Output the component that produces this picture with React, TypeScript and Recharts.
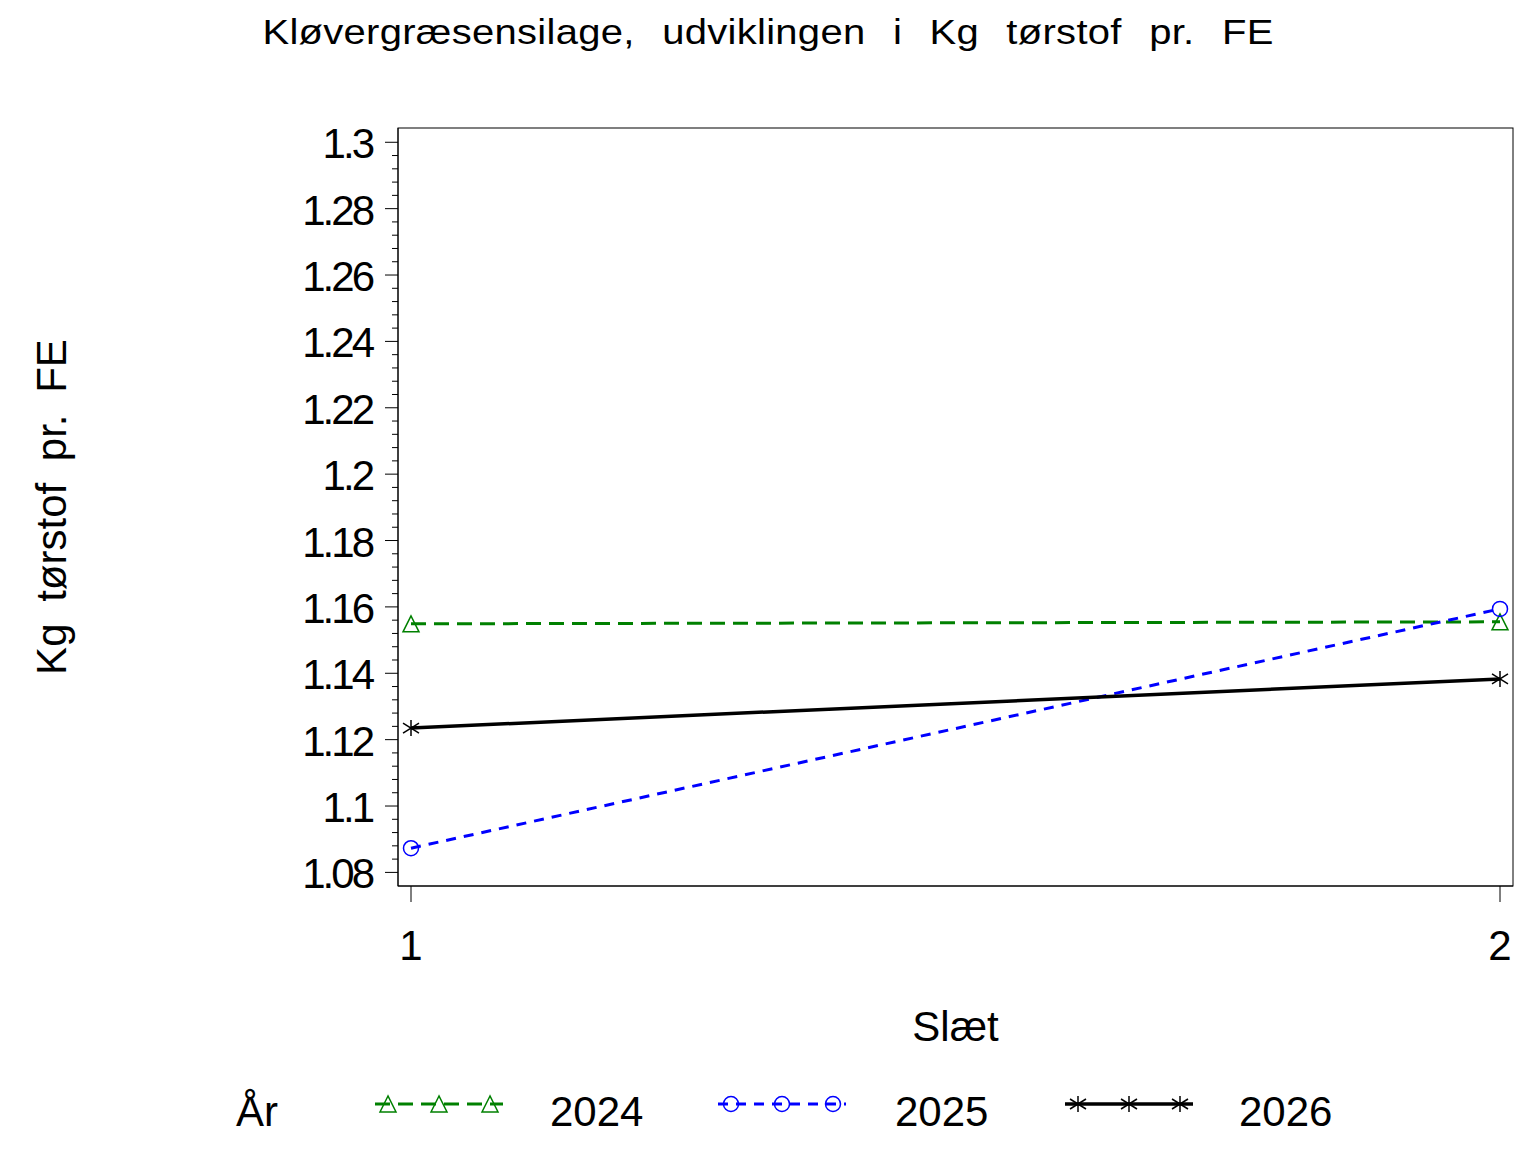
import React from "react";
import * as R from "recharts";
import { LineChart, Line, XAxis, YAxis, Legend } from "recharts";

const SLAET = [1, 2];
const Y2024 = [1.1549, 1.1555];
const Y2025 = [1.0873, 1.1594];
const Y2026 = [1.1235, 1.1383];
const MAJOR_TICKS = [1.08, 1.1, 1.12, 1.14, 1.16, 1.18, 1.2, 1.22, 1.24, 1.26, 1.28, 1.3];
const X_TICKS = [1, 2];

const FONT = "'Liberation Sans', Arial, sans-serif";

const data = SLAET.map((s, i) => ({ slaet: s, y2024: Y2024[i], y2025: Y2025[i], y2026: Y2026[i] }));

// 4 minor ticks between each pair of labelled ticks
const minorTicks: number[] = [];
for (let i = 0; i < MAJOR_TICKS.length - 1; i++) {
  for (let k = 1; k < 5; k++) {
    minorTicks.push(Math.round((MAJOR_TICKS[i] + k * 0.004) * 1000) / 1000);
  }
}
const allTicks = [...MAJOR_TICKS, ...minorTicks].sort((a, b) => a - b);

function Triangle({ cx, cy }: { cx: number; cy: number }) {
  return (
    <polygon
      points={`${cx},${cy - 8} ${cx - 8},${cy + 8} ${cx + 8},${cy + 8}`}
      fill="none"
      stroke="#008000"
      strokeWidth={1.5}
    />
  );
}

function Circle({ cx, cy }: { cx: number; cy: number }) {
  return <circle cx={cx} cy={cy} r={7.5} fill="none" stroke="#0000ff" strokeWidth={1.5} />;
}

function Star({ cx, cy }: { cx: number; cy: number }) {
  return (
    <g stroke="#000" strokeWidth={1.5}>
      <line x1={cx} y1={cy - 8} x2={cx} y2={cy + 8} />
      <line x1={cx - 8} y1={cy - 5} x2={cx + 8} y2={cy + 5} />
      <line x1={cx - 8} y1={cy + 5} x2={cx + 8} y2={cy - 5} />
    </g>
  );
}

const dotOf = (Shape: typeof Triangle) => (props: any) =>
  <Shape key={props.index} cx={props.cx} cy={props.cy} />;

// box round the plot area
function Frame() {
  const usePA = (R as any).usePlotArea;
  const pa = usePA ? usePA() : null;
  if (!pa) return null;
  return <rect x={pa.x} y={pa.y} width={pa.width} height={pa.height} fill="none" stroke="#000" strokeWidth={1} />;
}

function YTick(props: any) {
  const { x, y, payload } = props;
  const major = MAJOR_TICKS.includes(payload.value);
  return (
    <g>
      <line x1={x - (major ? 13 : 6)} y1={y} x2={x} y2={y} stroke="#000" strokeWidth={1} />
      {major && (
        <text x={x - 26} y={y + 16} textAnchor="end" fontSize={42} letterSpacing={-3} fill="#000" fontFamily={FONT}>
          {String(payload.value)}
        </text>
      )}
    </g>
  );
}

function XTick(props: any) {
  const { x, y, payload } = props;
  return (
    <g>
      <line x1={x} y1={y} x2={x} y2={y + 16} stroke="#000" strokeWidth={1} />
      <text x={x} y={y + 74} textAnchor="middle" fontSize={42} fill="#000" fontFamily={FONT}>
        {String(payload.value)}
      </text>
    </g>
  );
}

const LEGEND_ITEMS = [
  { key: "y2024", x: 375, text: 550, Shape: Triangle, color: "#008000", dash: "15 8", width: 3 },
  { key: "y2025", x: 718, text: 895, Shape: Circle, color: "#0000ff", dash: "10 8", width: 3 },
  { key: "y2026", x: 1065, text: 1239, Shape: Star, color: "#000", dash: undefined, width: 3.5 },
];

function LegendContent(props: any) {
  const payload = props.payload || [];
  const ly = 44;
  return (
    <svg width={1536} height={90} style={{ display: "block" }}>
      <text x={236} y={66} fontSize={42} fontFamily={FONT} fill="#000">År</text>
      {LEGEND_ITEMS.map((it) => {
        const p = payload.find((q: any) => q.dataKey === it.key);
        const S = it.Shape;
        return (
          <g key={it.key}>
            <line x1={it.x} y1={ly} x2={it.x + 128} y2={ly} stroke={it.color} strokeWidth={it.width} strokeDasharray={it.dash} />
            <S cx={it.x + 13} cy={ly} />
            <S cx={it.x + 64} cy={ly} />
            <S cx={it.x + 115} cy={ly} />
            <text x={it.text} y={66} fontSize={42} fontFamily={FONT} fill="#000">
              {p ? p.value : ""}
            </text>
          </g>
        );
      })}
    </svg>
  );
}

export default function App() {
  return (
    <div style={{ position: "absolute", left: 0, top: 0, width: 1536, height: 1152, background: "#fff" }}>
      <svg width={1536} height={80} style={{ position: "absolute", left: 0, top: 0 }}>
        <g transform="translate(768 44) scale(1 0.88)">
          <text x={0} y={0} textAnchor="middle" fontSize={40} letterSpacing={0.3} wordSpacing={16} fontFamily={FONT} fill="#000">
            Kløvergræsensilage, udviklingen i Kg tørstof pr. FE
          </text>
        </g>
      </svg>
      <LineChart width={1536} height={1152} data={data} margin={{ top: 128, right: 23, bottom: 206, left: 298 }}>
        <XAxis
          dataKey="slaet"
          type="number"
          domain={[1, 2]}
          ticks={X_TICKS}
          padding={{ left: 13, right: 13 }}
          height={60}
          tickSize={0}
          tickMargin={0}
          tick={<XTick />}
          axisLine={{ stroke: "#000", strokeWidth: 1 }}
          label={(p: any) => {
            const vb = p.viewBox;
            return (
              <text x={vb.x + vb.width / 2} y={1041} textAnchor="middle" fontSize={42} fontFamily={FONT} fill="#000">
                Slæt
              </text>
            );
          }}
        />
        <YAxis
          type="number"
          domain={[1.0759, 1.3043]}
          ticks={allTicks}
          interval={0}
          width={100}
          tickSize={0}
          tickMargin={0}
          tick={<YTick />}
          axisLine={{ stroke: "#000", strokeWidth: 1 }}
          label={(p: any) => {
            const vb = p.viewBox;
            const cy = vb.y + vb.height / 2;
            return (
              <text x={66} y={cy} transform={`rotate(-90 66 ${cy})`} textAnchor="middle" fontSize={42} wordSpacing={10} fontFamily={FONT} fill="#000">
                Kg tørstof pr. FE
              </text>
            );
          }}
        />
        <Frame />
        <Legend
          layout="horizontal"
          verticalAlign="middle"
          align="center"
          content={<LegendContent />}
          wrapperStyle={{ left: 0, top: 1060, width: 1536, height: 90 }}
        />
        <Line dataKey="y2024" name="2024" stroke="#008000" strokeWidth={3} strokeDasharray="15 8" dot={dotOf(Triangle)} isAnimationActive={false} />
        <Line dataKey="y2025" name="2025" stroke="#0000ff" strokeWidth={3} strokeDasharray="10 8" dot={dotOf(Circle)} isAnimationActive={false} />
        <Line dataKey="y2026" name="2026" stroke="#000" strokeWidth={3.5} dot={dotOf(Star)} isAnimationActive={false} />
      </LineChart>
    </div>
  );
}
